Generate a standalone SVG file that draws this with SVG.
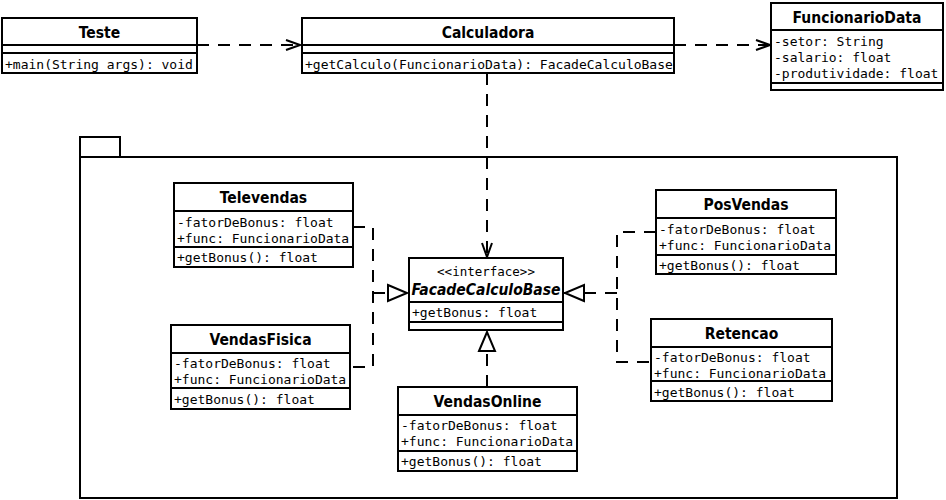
<svg xmlns="http://www.w3.org/2000/svg" width="946" height="500" viewBox="0 0 946 500">
<style>
.box{fill:#fff;stroke:#000;stroke-width:2}
.ln{stroke:#000;stroke-width:2;fill:none}
.t{font-family:"DejaVu Sans Condensed","DejaVu Sans",sans-serif;font-stretch:condensed;font-weight:bold;font-size:15.5px;text-anchor:middle;fill:#000}
.ti{font-family:"DejaVu Sans Condensed","DejaVu Sans",sans-serif;font-stretch:condensed;font-weight:bold;font-style:italic;font-size:15.5px;text-anchor:middle;fill:#000}
.m{font-family:"DejaVu Sans Mono",monospace;font-size:13px;fill:#000}
.st{font-family:"DejaVu Sans Mono",monospace;font-size:12.5px;text-anchor:middle;fill:#000}
.dash{stroke:#000;stroke-width:2;fill:none;stroke-dasharray:12 9}
</style>
<defs>
<marker id="open" viewBox="0 0 16 12" refX="15" refY="6" markerWidth="16" markerHeight="12" markerUnits="userSpaceOnUse" orient="auto">
<path d="M1,1 L15,6 L1,11" fill="none" stroke="#000" stroke-width="2"/>
</marker>
<marker id="tri" viewBox="0 0 22 20" refX="21" refY="10" markerWidth="22" markerHeight="20" markerUnits="userSpaceOnUse" orient="auto">
<path d="M1,2 L20,10 L1,18 Z" fill="#fff" stroke="#000" stroke-width="2"/>
</marker>
</defs>

<g id="package">
<rect class="box" x="80" y="137" width="40" height="20"/>
<rect class="box" x="80" y="157" width="817" height="341"/>
</g>

<g id="connectors">
<path class="dash" d="M197,45 H300" marker-end="url(#open)"/>
<path class="dash" d="M674,45 H770" marker-end="url(#open)"/>
<path class="dash" d="M487,73 V257" marker-end="url(#open)"/>
<path class="dash" d="M353,227 H373 V367 H350"/>
<path class="dash" d="M373,293 H408" marker-end="url(#tri)"/>
<path class="dash" d="M656,232 H617 V362 H651"/>
<path class="dash" d="M617,293 H564" marker-end="url(#tri)"/>
<path class="dash" d="M487,387 V331" marker-end="url(#tri)"/>
</g>

<g id="Teste">
<rect class="box" x="2" y="18" width="195" height="55"/>
<path class="ln" d="M2,45 H197 M2,53 H197"/>
<text class="t" x="99.5" y="38">Teste</text>
<text class="m" x="5" y="69">+main(String args): void</text>
</g>

<g id="Calculadora">
<rect class="box" x="302" y="18" width="372" height="55"/>
<path class="ln" d="M302,45 H674 M302,53 H674"/>
<text class="t" x="488" y="38">Calculadora</text>
<text class="m" x="305" y="69">+getCalculo(FuncionarioData): FacadeCalculoBase</text>
</g>

<g id="FuncionarioData">
<rect class="box" x="771" y="3" width="172" height="87"/>
<path class="ln" d="M771,30 H943 M771,83 H943"/>
<text class="t" x="857" y="23">FuncionarioData</text>
<text class="m" x="774" y="46">-setor: String</text>
<text class="m" x="774" y="62">-salario: float</text>
<text class="m" x="774" y="78">-produtividade: float</text>
</g>

<g id="Televendas">
<rect class="box" x="174" y="183" width="179" height="84"/>
<path class="ln" d="M174,211 H353 M174,247 H353"/>
<text class="t" x="263.5" y="203">Televendas</text>
<text class="m" x="177" y="227">-fatorDeBonus: float</text>
<text class="m" x="177" y="243">+func: FuncionarioData</text>
<text class="m" x="177" y="262">+getBonus(): float</text>
</g>

<g id="VendasFisica">
<rect class="box" x="171" y="325" width="179" height="84"/>
<path class="ln" d="M171,353 H350 M171,388 H350"/>
<text class="t" x="260.5" y="345">VendasFisica</text>
<text class="m" x="174" y="368">-fatorDeBonus: float</text>
<text class="m" x="174" y="384">+func: FuncionarioData</text>
<text class="m" x="174" y="404">+getBonus(): float</text>
</g>

<g id="FacadeCalculoBase">
<rect class="box" x="409" y="258" width="154" height="72"/>
<path class="ln" d="M409,302 H563 M409,322 H563"/>
<text class="st" x="486" y="276">&lt;&lt;interface&gt;&gt;</text>
<text class="ti" x="486" y="295">FacadeCalculoBase</text>
<text class="m" x="412" y="317">+getBonus: float</text>
</g>

<g id="VendasOnline">
<rect class="box" x="398" y="387" width="179" height="84"/>
<path class="ln" d="M398,415 H577 M398,451 H577"/>
<text class="t" x="487.5" y="407">VendasOnline</text>
<text class="m" x="401" y="430">-fatorDeBonus: float</text>
<text class="m" x="401" y="446">+func: FuncionarioData</text>
<text class="m" x="401" y="466">+getBonus(): float</text>
</g>

<g id="PosVendas">
<rect class="box" x="656" y="190" width="180" height="84"/>
<path class="ln" d="M656,218 H836 M656,255 H836"/>
<text class="t" x="746" y="210">PosVendas</text>
<text class="m" x="659" y="234">-fatorDeBonus: float</text>
<text class="m" x="659" y="250">+func: FuncionarioData</text>
<text class="m" x="659" y="270">+getBonus(): float</text>
</g>

<g id="Retencao">
<rect class="box" x="651" y="319" width="181" height="82"/>
<path class="ln" d="M651,347 H832 M651,381 H832"/>
<text class="t" x="741.5" y="339">Retencao</text>
<text class="m" x="654" y="362">-fatorDeBonus: float</text>
<text class="m" x="654" y="378">+func: FuncionarioData</text>
<text class="m" x="654" y="397">+getBonus(): float</text>
</g>
</svg>
